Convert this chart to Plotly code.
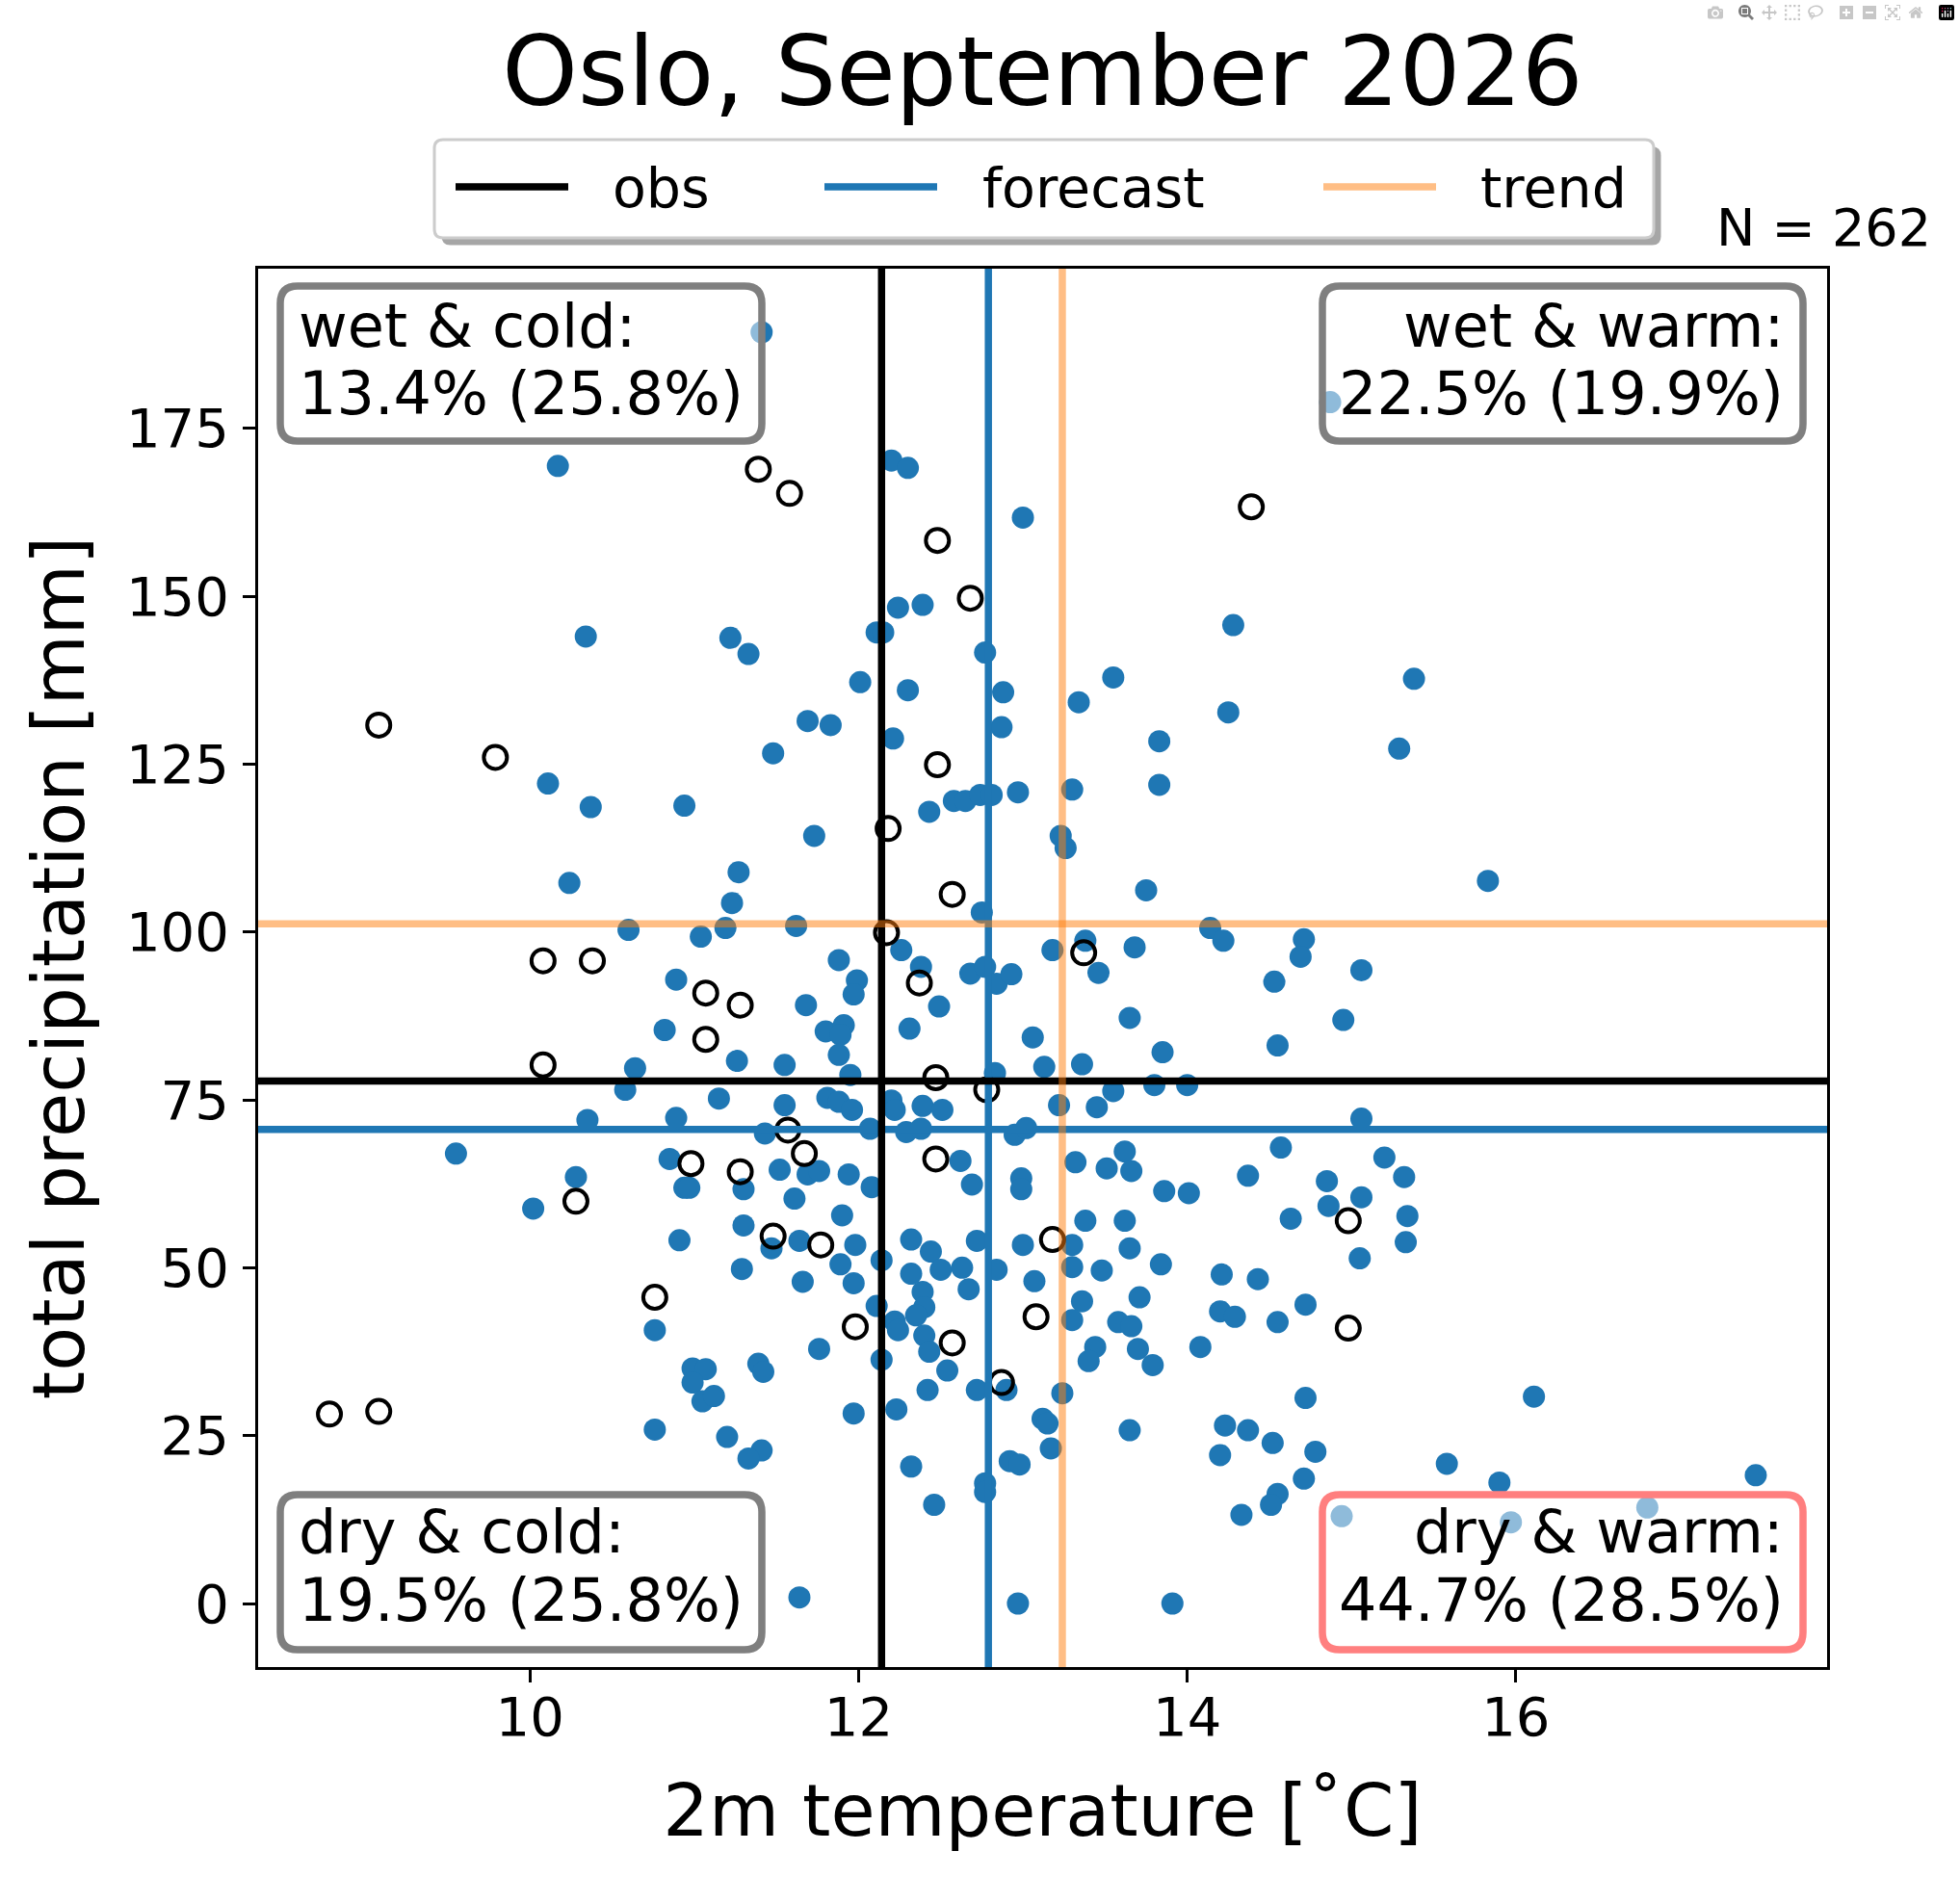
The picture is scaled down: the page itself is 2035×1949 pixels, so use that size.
import plotly.graph_objects as go

# ---------------- data ----------------
fc_temp = [
    11.41, 14.87, 10.17, 12.20, 12.30, 13.00, 10.34, 11.22, 11.33, 12.11,
    12.15, 12.24, 12.39, 14.28, 12.77, 13.55, 15.38, 12.30, 12.01, 12.88,
    11.69, 11.83, 12.87, 13.34, 14.25, 12.21, 11.48, 13.83, 15.29, 10.11,
    10.37, 10.94, 13.83, 13.30, 12.43, 12.58, 12.65, 12.74, 12.81, 12.97,
    11.73, 13.23, 13.26,
    10.24, 9.55, 10.35, 10.28, 10.02,
    11.27, 11.23, 10.60, 11.04, 11.19, 11.62, 12.26, 12.38, 11.88, 11.99,
    11.97, 10.89, 11.68, 10.82, 11.80, 11.91, 11.89, 11.88, 12.31, 10.64,
    11.26, 11.55, 11.95, 10.58, 11.15, 11.55, 11.81, 11.88, 11.96, 12.20,
    12.22, 12.39, 10.89, 11.43, 12.07, 12.29, 12.38, 10.85, 11.52, 11.69,
    11.76, 11.94, 12.08, 10.94, 10.97, 11.30, 11.61,
    13.75, 12.75, 14.14, 14.22, 13.18, 13.38, 13.68, 13.46, 12.49, 12.68,
    12.77, 12.84, 12.93, 13.65, 13.06, 13.85, 13.13, 13.36, 12.83, 13.55,
    13.80, 14.00, 13.22, 13.45, 12.51, 12.95, 13.02, 12.62, 13.32, 13.62,
    13.66, 13.51, 12.69, 12.99, 12.99, 13.86, 14.01,
    10.91, 11.30, 11.47, 11.64, 11.98, 11.89, 12.14, 11.29, 11.66, 11.97,
    10.76, 12.11, 12.22, 12.24, 11.76, 12.14, 10.99, 11.07, 10.99, 11.05,
    11.12, 11.39, 11.42, 11.97, 12.23, 10.76, 11.20, 11.41, 11.33, 12.32,
    11.90,
    13.38, 13.62, 13.65, 13.84, 14.21, 12.32, 12.44, 12.72, 13.00, 13.30,
    13.30, 13.48, 12.50, 12.63, 12.84, 12.67, 13.07, 12.32, 12.39, 12.40,
    12.35, 13.36, 13.30, 13.71, 13.58, 13.66, 13.70, 13.79, 14.08, 14.20,
    12.40, 12.43, 12.54, 13.44, 13.40, 12.42, 12.72, 12.90, 13.24, 13.12,
    13.15, 13.17, 13.65, 14.23, 14.20, 12.92, 12.98, 12.77, 12.77,
    15.83, 14.71, 14.69, 15.06, 14.53, 14.95, 14.55, 15.06, 14.57, 14.85,
    15.32, 15.20, 14.37, 15.06, 14.63, 14.86, 15.34, 15.33, 15.05, 14.43,
    14.72, 14.29, 14.55, 14.72, 16.11, 14.37, 14.52, 14.78, 15.58, 17.46,
    15.90, 14.71, 14.55,
    14.51, 14.33, 12.46, 14.94, 15.97, 16.80, 11.64, 12.97, 13.91,
]
fc_precip = [
    189.3, 178.9, 169.4, 170.2, 169.1, 161.7, 144.0, 143.8, 141.4, 144.6,
    144.6, 148.3, 148.7, 145.7, 141.6, 137.9, 137.7, 136.0, 137.2, 135.7,
    131.4, 130.8, 130.5, 134.2, 132.7, 128.8, 126.6, 128.4, 127.3, 122.1,
    118.6, 118.8, 121.9, 121.2, 117.9, 119.5, 119.5, 120.4, 120.4, 120.8,
    114.3, 114.3, 112.5,
    107.3, 67.0, 72.0, 63.5, 58.8,
    108.9, 104.3, 100.3, 99.3, 100.6, 100.9, 97.3, 94.8, 95.8, 92.8,
    90.7, 92.9, 89.1, 85.4, 85.2, 86.1, 84.7, 81.7, 85.6, 79.7,
    80.8, 80.2, 78.7, 76.5, 75.2, 74.2, 75.3, 74.7, 73.5, 74.9,
    73.5, 74.1, 72.3, 70.0, 70.7, 70.2, 70.7, 66.2, 64.6, 63.9,
    64.4, 63.9, 62.0, 61.9, 61.9, 61.7, 60.3,
    106.2, 102.9, 100.6, 98.7, 97.3, 98.7, 97.7, 93.9, 88.9, 93.8,
    94.8, 92.3, 93.7, 87.2, 84.3, 82.1, 79.9, 80.3, 79.0, 76.3,
    77.2, 77.2, 74.2, 73.9, 73.5, 69.8, 70.8, 65.9, 65.7, 67.3,
    64.4, 64.8, 62.4, 63.3, 61.7, 61.4, 61.1,
    54.1, 56.3, 52.9, 54.0, 53.4, 50.5, 51.1, 49.8, 47.9, 47.7,
    40.7, 44.3, 42.0, 40.7, 37.9, 36.3, 35.0, 34.9, 32.9, 30.1,
    30.9, 35.7, 34.5, 28.3, 28.9, 25.9, 24.8, 22.8, 21.6, 20.4,
    57.8,
    57.0, 57.0, 52.9, 50.5, 49.0, 54.2, 52.4, 54.0, 53.4, 53.4,
    50.1, 49.6, 49.7, 50.0, 49.7, 46.8, 48.0, 49.1, 46.4, 44.1,
    42.9, 45.0, 42.2, 45.6, 41.9, 41.3, 37.9, 35.5, 38.2, 43.5,
    39.9, 37.5, 34.7, 38.2, 36.1, 31.8, 31.8, 31.8, 31.3, 27.5,
    26.8, 23.1, 25.8, 26.5, 22.1, 21.2, 20.7, 17.9, 16.6,
    107.6, 98.9, 96.3, 94.3, 92.6, 86.9, 83.1, 72.2, 67.9, 62.9,
    63.5, 66.4, 63.7, 60.5, 57.3, 59.2, 57.7, 53.8, 51.4, 48.3,
    44.5, 42.7, 41.9, 30.6, 30.8, 25.8, 23.9, 22.6, 20.8, 19.1,
    18.0, 18.6, 16.3,
    14.7, 13.2, 14.7, 13.0, 12.1, 14.3, 0.9, 0.0, 0.0,
]
obs_hist_temp = [
    9.08, 9.79, 11.39, 11.58, 12.48, 12.68, 14.39, 12.18, 12.48, 12.57,
    12.17, 10.08, 10.38, 11.07, 11.28, 11.07, 12.37, 13.37, 10.08, 12.47,
    12.78, 11.57, 11.67, 10.98, 11.28, 12.47, 10.28, 11.48, 11.77, 13.18,
    14.98, 10.76, 11.98, 13.08, 14.98, 12.57, 12.87, 8.78, 9.08,
]
obs_hist_precip = [
    130.8, 126.0, 168.9, 165.3, 158.3, 149.7, 163.3, 115.4, 124.9, 105.6,
    99.9, 95.7, 95.7, 90.9, 89.1, 84.0, 92.4, 96.9, 80.2, 78.3,
    76.5, 70.5, 67.0, 65.5, 64.3, 66.2, 59.9, 54.7, 53.4, 54.2,
    57.0, 45.6, 41.2, 42.7, 41.0, 38.8, 32.9, 28.2, 28.6,
]

ref_names = ["obs", "forecast", "trend"]
ref_temp = [12.14, 12.79, 13.24]
ref_precip = [77.8, 70.6, 101.2]

quadrant_names = ["wet & cold:", "wet & warm:", "dry & cold:", "dry & warm:"]
quadrant_fc = ["13.4%", "22.5%", "19.5%", "44.7%"]
quadrant_clim = ["25.8%", "19.9%", "25.8%", "28.5%"]
n_members = 262

title_text = "Oslo, September 2026"
xlabel = "2m temperature [˚C]"
ylabel = "total precipitation [mm]"
xticks = [10, 12, 14, 16]
yticks = [0, 25, 50, 75, 100, 125, 150, 175]

# ---------------- layout geometry (pixels) ----------------
W, H = 2035, 1949
ML, MR, MT, MB = 268, 138, 279, 218
PW = W - ML - MR
PH = H - MT - MB
FONT = "DejaVu Sans"


def fx(p):
    return (p - ML) / PW


def fy(p):
    return (H - MB - p) / PH


def rounded_rect(x0, y0, x1, y1, r):
    rx, ry = r / PW, r / PH
    X0, X1, Y0, Y1 = fx(x0), fx(x1), fy(y0), fy(y1)
    return (
        f"M{X0 + rx},{Y0} L{X1 - rx},{Y0} Q{X1},{Y0} {X1},{Y0 - ry} "
        f"L{X1},{Y1 + ry} Q{X1},{Y1} {X1 - rx},{Y1} "
        f"L{X0 + rx},{Y1} Q{X0},{Y1} {X0},{Y1 + ry} "
        f"L{X0},{Y0 - ry} Q{X0},{Y0} {X0 + rx},{Y0} Z"
    )


all_t = fc_temp + obs_hist_temp
all_p = fc_precip + obs_hist_precip
tspan = max(all_t) - min(all_t)
pspan = max(all_p) - min(all_p)
xrange = [min(all_t) - 0.05 * tspan, max(all_t) + 0.05 * tspan]
yrange = [min(all_p) - 0.05 * pspan, max(all_p) + 0.05 * pspan]

fig = go.Figure()
fig.add_trace(go.Scatter(
    x=fc_temp, y=fc_precip, mode="markers", name="forecast members",
    showlegend=False,
    marker=dict(size=23, color="#1f77b4", line=dict(width=0)),
    hoverinfo="x+y",
))
fig.add_trace(go.Scatter(
    x=obs_hist_temp, y=obs_hist_precip, mode="markers", name="past observations",
    showlegend=False,
    marker=dict(size=24, color="rgba(0,0,0,0)", line=dict(width=4, color="black")),
    hoverinfo="x+y",
))

ref_colors = {"obs": "black", "forecast": "#1f77b4", "trend": "#ff7f0e"}
ref_opac = {"obs": 1.0, "forecast": 1.0, "trend": 0.5}
LW = 7.5
shapes = []
for name in ["forecast", "obs", "trend"]:
    i = ref_names.index(name)
    ln = dict(color=ref_colors[name], width=LW)
    shapes.append(dict(type="line", xref="x", yref="y domain",
                       x0=ref_temp[i], x1=ref_temp[i], y0=0, y1=1,
                       line=ln, opacity=ref_opac[name], layer="above"))
    shapes.append(dict(type="line", xref="x domain", yref="y",
                       x0=0, x1=1, y0=ref_precip[i], y1=ref_precip[i],
                       line=ln, opacity=ref_opac[name], layer="above"))

annotations = []

# quadrant boxes
box_x = {"cold": (291, 791), "warm": (1373, 1872)}
box_y = {"wet": (297, 458), "dry": (1552, 1713)}
text_y = {"wet": (338, 409), "dry": (1590, 1661)}
for k, qn in enumerate(quadrant_names):
    wetdry = "wet" if qn.startswith("wet") else "dry"
    coldwarm = "cold" if "cold" in qn else "warm"
    edge = "#ff7f7f" if k == 3 else "#7f7f7f"
    x0, x1 = box_x[coldwarm]
    y0, y1 = box_y[wetdry]
    shapes.append(dict(type="path", xref="paper", yref="paper",
                       path=rounded_rect(x0, y0, x1, y1, 18),
                       fillcolor="rgba(255,255,255,0.5)",
                       line=dict(color=edge, width=LW), layer="above"))
    lines = [qn, f"{quadrant_fc[k]} ({quadrant_clim[k]})"]
    for j, t in enumerate(lines):
        if coldwarm == "cold":
            ax, anch = fx(309), "left"
        else:
            ax, anch = fx(1853), "right"
        annotations.append(dict(
            text=t, xref="paper", yref="paper", x=ax, y=fy(text_y[wetdry][j]),
            xanchor=anch, yanchor="middle", showarrow=False,
            font=dict(family=FONT, size=62, color="black"), borderpad=0,
        ))

# legend (frame with shadow, line samples and labels)
leg_box = (451, 145, 1717, 247)
shapes.append(dict(type="path", xref="paper", yref="paper",
                   path=rounded_rect(leg_box[0] + 7.5, leg_box[1] + 7.5,
                                     leg_box[2] + 7.5, leg_box[3] + 7.5, 9),
                   fillcolor="rgba(77,77,77,0.5)", line=dict(width=0), layer="above"))
shapes.append(dict(type="path", xref="paper", yref="paper",
                   path=rounded_rect(*leg_box, 9),
                   fillcolor="white", line=dict(color="#cccccc", width=3), layer="above"))
leg_line_x = [473, 856, 1374]
leg_text_x = [635, 1019, 1536]
leg_y = 194
for i, name in enumerate(ref_names):
    shapes.append(dict(type="line", xref="paper", yref="paper",
                       x0=fx(leg_line_x[i]), x1=fx(leg_line_x[i] + 117),
                       y0=fy(leg_y), y1=fy(leg_y),
                       line=dict(color=ref_colors[name], width=LW),
                       opacity=ref_opac[name], layer="above"))
    annotations.append(dict(
        text=name, xref="paper", yref="paper", x=fx(leg_text_x[i]), y=fy(leg_y + 1),
        xanchor="left", yanchor="middle", showarrow=False,
        font=dict(family=FONT, size=57, color="black"), borderpad=0,
    ))

annotations.append(dict(
    text=f"N = {n_members}", xref="paper", yref="paper", x=fx(2006), y=fy(236),
    xanchor="right", yanchor="middle", showarrow=False,
    font=dict(family=FONT, size=54, color="black"), borderpad=0,
))

axis_common = dict(
    showgrid=False, zeroline=False, showline=True, mirror=True,
    linecolor="black", linewidth=3, ticks="outside", ticklen=13,
    tickwidth=3, tickcolor="black", automargin=False,
    tickfont=dict(family=FONT, size=56, color="black"),
)

fig.update_layout(
    width=W, height=H, autosize=False, showlegend=False,
    margin=dict(l=ML, r=MR, t=MT, b=MB, pad=0),
    paper_bgcolor="white", plot_bgcolor="white",
    font=dict(family=FONT, color="black"),
    title=dict(text=title_text, x=0.5, xref="paper", xanchor="center",
               y=1 - 74 / H, yref="container", yanchor="middle",
               font=dict(family=FONT, size=100, color="black")),
    xaxis=dict(range=xrange, tickvals=xticks, ticklabelstandoff=-12,
               title=dict(text=xlabel, font=dict(family=FONT, size=75, color="black"), standoff=40),
               **axis_common),
    yaxis=dict(range=yrange, tickvals=yticks, ticklabelstandoff=3,
               title=dict(text=ylabel, font=dict(family=FONT, size=75, color="black"), standoff=19),
               **axis_common),
    shapes=shapes,
    annotations=annotations,
)

fig.write_html("out.html", post_script="document.body.style.margin='0';")
